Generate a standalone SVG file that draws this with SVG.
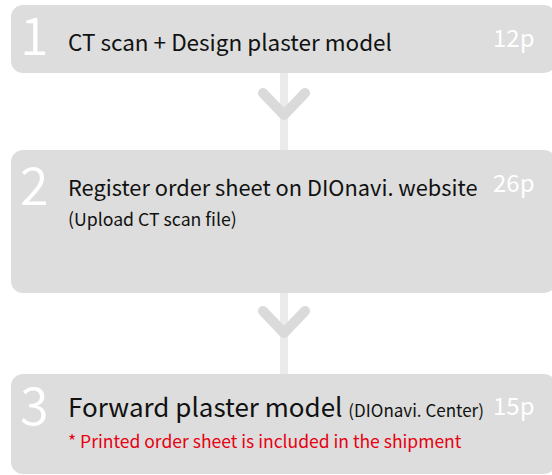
<svg xmlns="http://www.w3.org/2000/svg" width="552" height="475" viewBox="0 0 552 475">
<style>
.box{fill:#dcdddc}
.num{font-family:"Noto Sans CJK KR","Noto Sans",sans-serif;font-weight:350;font-size:52px;fill:#ffffff}
.pg{font-family:"Noto Sans CJK KR","Noto Sans",sans-serif;font-size:24px;fill:#ffffff}
.t{font-family:"Noto Sans CJK KR","Noto Sans",sans-serif;fill:#111111}
.red{font-family:"Noto Sans CJK KR","Noto Sans",sans-serif;fill:#e60012;font-size:17.5px}
.line{stroke:#ebebeb;stroke-width:8;fill:none}
.chev{stroke:#d9dad9;stroke-width:10;stroke-linecap:round;stroke-linejoin:round;fill:none}
</style>
<g id="connectors">
<line class="line" x1="284" y1="73" x2="284" y2="150"/>
<polyline class="chev" points="263,93 284,115 305,93"/>
<line class="line" x1="284" y1="292" x2="284" y2="374"/>
<polyline class="chev" points="263,311 284,333 305,311"/>
</g>
<g id="step1">
<rect class="box" x="11" y="5" width="545" height="68" rx="12"/>
<text class="num" x="20" y="55">1</text>
<text class="t" x="68" y="51" font-size="22.5">CT scan + Design plaster model</text>
<text class="pg" x="493" y="47">12p</text>
</g>
<g id="step2">
<rect class="box" x="11" y="150" width="545" height="143" rx="12"/>
<text class="num" x="20" y="205">2</text>
<text class="t" x="68" y="196" font-size="21.8">Register order sheet on DIOnavi. website</text>
<text class="t" x="68" y="226" font-size="17.7">(Upload CT scan file)</text>
<text class="pg" x="493" y="192">26p</text>
</g>
<g id="step3">
<rect class="box" x="11" y="374" width="545" height="100" rx="12"/>
<text class="num" x="20" y="425">3</text>
<text class="t" x="68" y="417" font-size="26">Forward plaster model <tspan font-size="17">(DIOnavi. Center)</tspan></text>
<text class="pg" x="493" y="415">15p</text>
<text class="red" x="68" y="448">* Printed order sheet is included in the shipment</text>
</g>
</svg>
